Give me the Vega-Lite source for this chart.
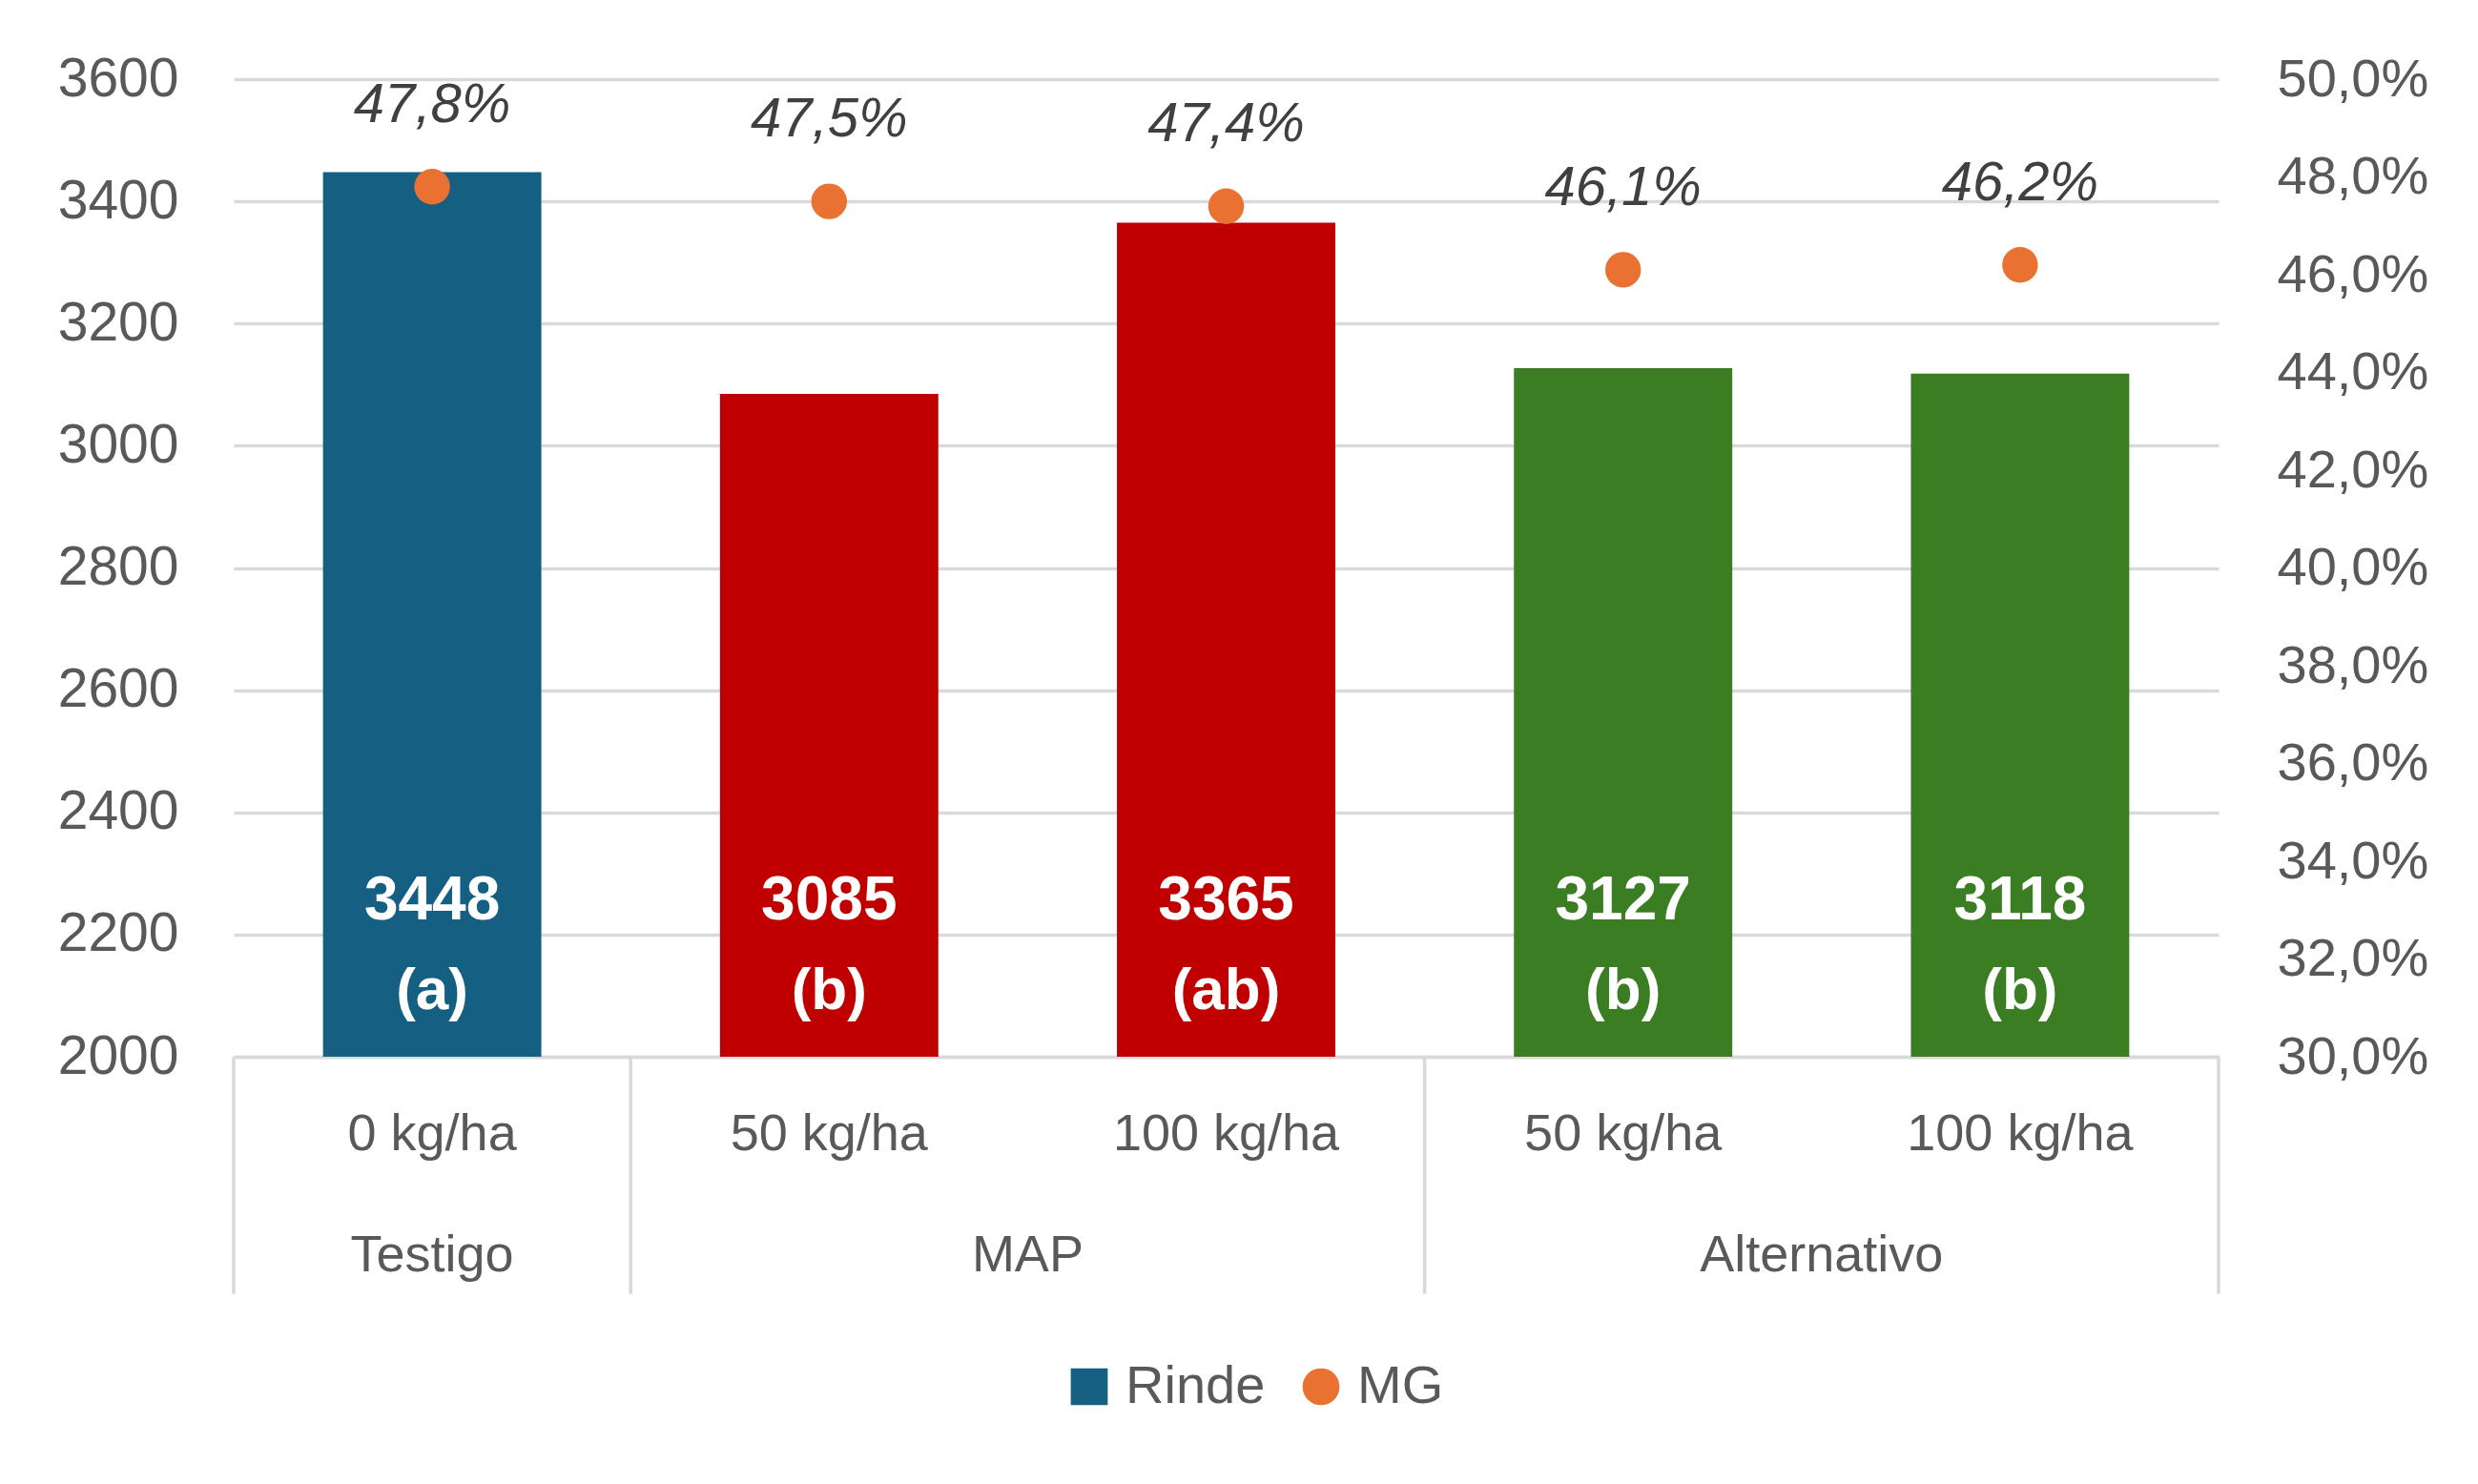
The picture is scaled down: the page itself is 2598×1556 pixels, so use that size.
{
  "$schema": "https://vega.github.io/schema/vega-lite/v6.json",
  "width": 2081,
  "height": 1025,
  "autosize": {"type": "none"},
  "padding": {"left": 245, "top": 83, "right": 272, "bottom": 448},
  "background": "white",
  "config": {
    "locale": {"number": {"decimal": ",", "thousands": ".", "grouping": [3], "currency": ["$", ""]}},
    "view": {"stroke": null},
    "font": "Liberation Sans",
    "axis": {"labelFont": "Liberation Sans"},
    "legend": {"labelFont": "Liberation Sans"}
  },
  "data": {
    "values": [
      {"trat": "Testigo|0 kg/ha", "grupo": "Testigo", "dosis": "0 kg/ha", "rinde": 3448, "letra": "(a)", "mg": 0.478},
      {"trat": "MAP|50 kg/ha", "grupo": "MAP", "dosis": "50 kg/ha", "rinde": 3085, "letra": "(b)", "mg": 0.475},
      {"trat": "MAP|100 kg/ha", "grupo": "MAP", "dosis": "100 kg/ha", "rinde": 3365, "letra": "(ab)", "mg": 0.474},
      {"trat": "Alternativo|50 kg/ha", "grupo": "Alternativo", "dosis": "50 kg/ha", "rinde": 3127, "letra": "(b)", "mg": 0.461},
      {"trat": "Alternativo|100 kg/ha", "grupo": "Alternativo", "dosis": "100 kg/ha", "rinde": 3118, "letra": "(b)", "mg": 0.462}
    ]
  },
  "encoding": {
    "x": {
      "field": "trat",
      "type": "nominal",
      "sort": null,
      "scale": {
        "domain": ["Testigo|0 kg/ha", "MAP|50 kg/ha", "MAP|100 kg/ha", "Alternativo|50 kg/ha", "Alternativo|100 kg/ha"],
        "paddingInner": 0,
        "paddingOuter": 0
      },
      "axis": {
        "title": null,
        "labelExpr": "slice(datum.label, indexof(datum.label, '|') + 1)",
        "labelFontSize": 54,
        "labelColor": "#595959",
        "labelPadding": 81,
        "labelBaseline": "middle",
        "labelAngle": 0,
        "labelLimit": 0,
        "ticks": false,
        "domainColor": "#D9D9D9",
        "domainWidth": 3.5
      }
    }
  },
  "layer": [
    {
      "layer": [
        {
          "mark": {"type": "bar", "width": {"band": 0.55}},
          "encoding": {
            "y": {
              "field": "rinde",
              "type": "quantitative",
              "scale": {"domain": [2000, 3600], "zero": false, "nice": false},
              "axis": {
                "title": null,
                "values": [2000, 2200, 2400, 2600, 2800, 3000, 3200, 3400, 3600],
                "format": "d",
                "labelFontSize": 57,
                "labelColor": "#595959",
                "labelPadding": 58,
                "ticks": false,
                "domain": false,
                "grid": true,
                "gridColor": "#D9D9D9",
                "gridWidth": 3.5
              }
            },
            "y2": {"datum": 2000},
            "color": {
              "field": "grupo",
              "type": "nominal",
              "scale": {"domain": ["Testigo", "MAP", "Alternativo"], "range": ["#156082", "#C00000", "#3A7D22"]},
              "legend": null
            }
          }
        },
        {
          "mark": {"type": "text", "fontSize": 64, "fontWeight": "bold", "color": "white", "baseline": "middle", "dy": -163},
          "encoding": {
            "y": {"datum": 2000},
            "text": {"field": "rinde", "type": "quantitative", "format": "d"}
          }
        },
        {
          "mark": {"type": "text", "fontSize": 62, "fontWeight": "bold", "color": "white", "baseline": "middle", "dy": -69},
          "encoding": {
            "y": {"datum": 2000},
            "text": {"field": "letra", "type": "nominal"}
          }
        },
        {
          "transform": [{"filter": "datum.dosis != '100 kg/ha'"}],
          "mark": {"type": "rule", "color": "#D9D9D9", "strokeWidth": 3.5},
          "encoding": {
            "x": {"field": "trat", "type": "nominal", "bandPosition": 0},
            "y": {"datum": 2000},
            "y2": {"datum": 1612}
          }
        },
        {
          "transform": [{"filter": "datum.trat == 'Alternativo|100 kg/ha'"}],
          "mark": {"type": "rule", "color": "#D9D9D9", "strokeWidth": 3.5},
          "encoding": {
            "x": {"field": "trat", "type": "nominal", "bandPosition": 1},
            "y": {"datum": 2000},
            "y2": {"datum": 1612}
          }
        },
        {
          "transform": [{"filter": "datum.grupo == 'Testigo'"}],
          "mark": {"type": "text", "fontSize": 54, "color": "#595959", "baseline": "middle", "dy": 209},
          "encoding": {
            "x": {"field": "trat", "type": "nominal", "bandPosition": 0.5},
            "y": {"datum": 2000},
            "text": {"field": "grupo", "type": "nominal"}
          }
        },
        {
          "transform": [{"filter": "datum.dosis == '50 kg/ha'"}],
          "mark": {"type": "text", "fontSize": 54, "color": "#595959", "baseline": "middle", "dy": 209},
          "encoding": {
            "x": {"field": "trat", "type": "nominal", "bandPosition": 1},
            "y": {"datum": 2000},
            "text": {"field": "grupo", "type": "nominal"}
          }
        }
      ]
    },
    {
      "layer": [
        {
          "mark": {"type": "point", "filled": true, "size": 1400, "opacity": 1},
          "encoding": {
            "y": {
              "field": "mg",
              "type": "quantitative",
              "scale": {"domain": [0.3, 0.5], "zero": false, "nice": false},
              "axis": {
                "title": null,
                "orient": "right",
                "values": [0.3, 0.32, 0.34, 0.36, 0.38, 0.4, 0.42, 0.44, 0.46, 0.48, 0.5],
                "format": ".1%",
                "labelFontSize": 56,
                "labelColor": "#595959",
                "labelPadding": 61,
                "ticks": false,
                "domain": false,
                "grid": false
              }
            },
            "fill": {
              "datum": "MG",
              "scale": {"domain": ["Rinde", "MG"], "range": ["#156082", "#E97132"]},
              "legend": {
                "title": null,
                "orient": "none",
                "legendX": 869,
                "legendY": 1343,
                "direction": "horizontal",
                "labelFontSize": 56,
                "labelColor": "#595959",
                "symbolSize": 1500,
                "labelOffset": 10,
                "columnPadding": 30,
                "padding": 0,
                "symbolStrokeWidth": 0
              }
            },
            "shape": {
              "datum": "MG",
              "scale": {"domain": ["Rinde", "MG"], "range": ["square", "circle"]}
            }
          }
        },
        {
          "mark": {"type": "text", "fontSize": 58, "fontStyle": "italic", "color": "#404040", "baseline": "middle", "dy": -85},
          "encoding": {
            "y": {"field": "mg", "type": "quantitative"},
            "text": {"field": "mg", "type": "quantitative", "format": ".1%"}
          }
        }
      ]
    }
  ],
  "resolve": {"scale": {"y": "independent"}}
}
